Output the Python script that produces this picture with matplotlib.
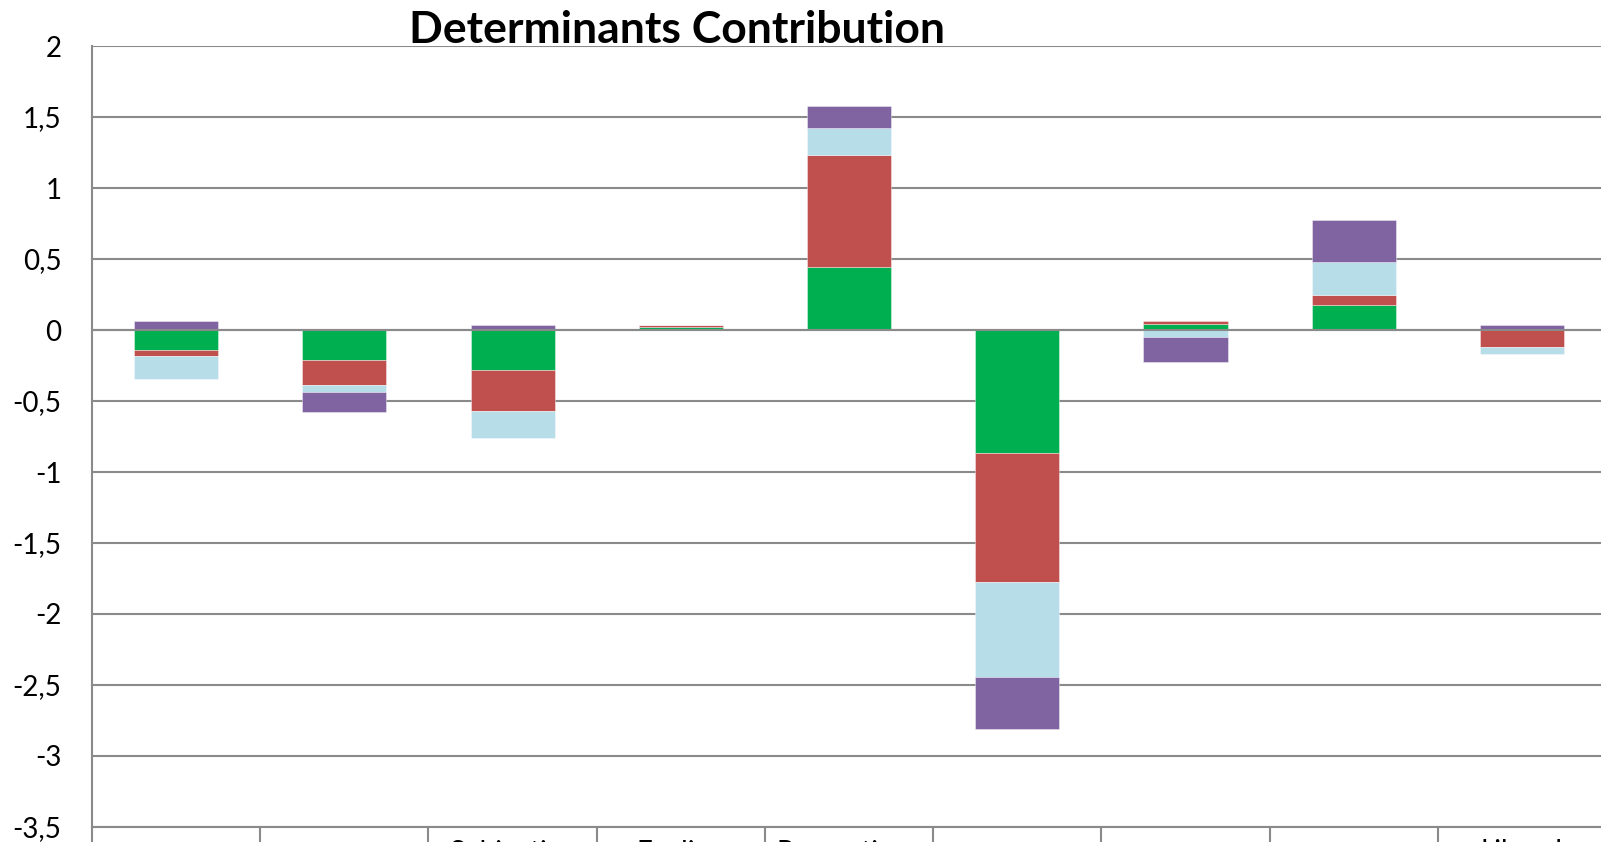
import numpy as np
import matplotlib
matplotlib.use("Agg")
import matplotlib.pyplot as plt
from matplotlib.ticker import FuncFormatter, FixedLocator

# Category labels along the horizontal axis
categories = ["", "", "Subjective", "Feeling", "Perceptions", "", "", "", "Liberal"]

# Contribution of each determinant per category
green_vals = [-0.141, -0.214, -0.284, 0.020, 0.441, -0.869, 0.045, 0.173, 0.000]
red_vals = [-0.042, -0.174, -0.286, 0.015, 0.794, -0.906, 0.016, 0.073, -0.120]
lightblue_vals = [-0.164, -0.052, -0.193, 0.000, 0.190, -0.671, -0.050, 0.230, -0.049]
purple_vals = [0.061, -0.137, 0.035, 0.000, 0.152, -0.362, -0.178, 0.299, 0.038]

y_ticks = [-3.5, -3, -2.5, -2, -1.5, -1, -0.5, 0, 0.5, 1, 1.5, 2]

series = [
    (green_vals, "#00B050"),
    (red_vals, "#C0504D"),
    (lightblue_vals, "#B7DDE8"),
    (purple_vals, "#8064A2"),
]

plt.rcParams["font.family"] = ["Lato", "DejaVu Sans"]

W, H = 1601, 842
fig = plt.figure(figsize=(W / 100, H / 100), dpi=100)
ax = fig.add_axes([92 / W, 1 - 827 / H, 1514 / W, (827 - 46) / H])

x = np.arange(len(categories))
pos_base = np.zeros(len(categories))
neg_base = np.zeros(len(categories))
for vals, color in series:
    v = np.array(vals, dtype=float)
    bottom = np.where(v >= 0, pos_base, neg_base)
    ax.bar(x, v, width=0.5, bottom=bottom, color=color,
           edgecolor=(1, 1, 1, 0.45), linewidth=0.6, zorder=3)
    pos_base = pos_base + np.clip(v, 0, None)
    neg_base = neg_base + np.clip(v, None, 0)

grid_color = "#8a8a8a"
ax.set_xlim(-0.5, len(categories) - 0.5)
ax.set_ylim(-3.5, 2)
ax.set_yticks(y_ticks)
ax.yaxis.set_major_formatter(FuncFormatter(lambda v, p: f"{v:g}".replace(".", ",")))
ax.yaxis.grid(True, color=grid_color, linewidth=1.5, zorder=0)
ax.set_axisbelow(True)
ax.axhline(0, color=grid_color, linewidth=1.5, zorder=4)

ax.tick_params(axis="y", length=0, pad=22, labelsize=20, labelcolor="black")

ax.set_xticks(x)
ax.set_xticklabels(categories)
ax.xaxis.set_minor_locator(FixedLocator(np.arange(-0.5, len(categories), 1.0)))
ax.tick_params(axis="x", which="major", length=0, pad=9, labelsize=20)
ax.tick_params(axis="x", which="minor", length=16, width=1.5, color=grid_color,
               direction="out")

for side in ("top", "right"):
    ax.spines[side].set_visible(False)
for side in ("left", "bottom"):
    ax.spines[side].set_color(grid_color)
    ax.spines[side].set_linewidth(1.5)

fig.text(677 / W, 1 - 43 / H, "Determinants Contribution", ha="center",
         va="baseline", fontsize=32, fontweight="bold", color="black")

fig.savefig("out.png", dpi=100)
